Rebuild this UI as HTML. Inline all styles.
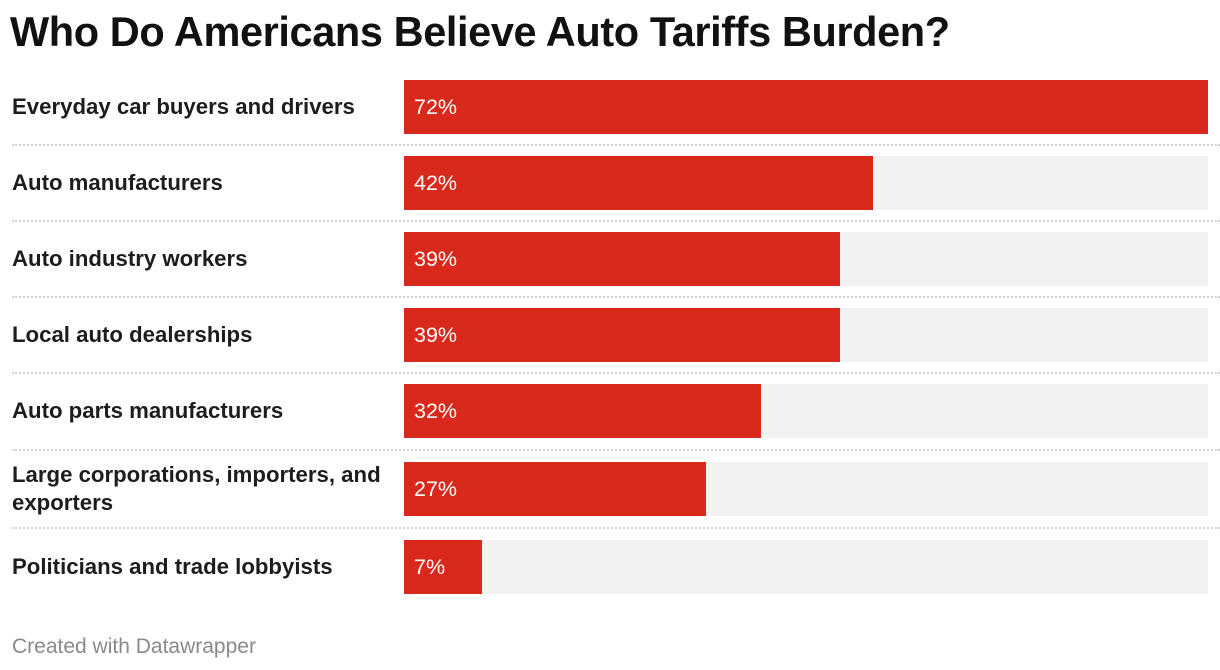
<!DOCTYPE html>
<html><head><meta charset="utf-8"><style>
body{margin:0;width:1220px;height:670px;background:#fff;font-family:"Liberation Sans",sans-serif;position:relative;overflow:hidden}
.abs{position:absolute}
#title{left:10px;top:8px;font-size:41.5px;font-weight:bold;color:#111;letter-spacing:-0.4px;white-space:nowrap}
.lbl{left:12px;width:385px;font-size:22.2px;font-weight:bold;color:#1d1d1d;line-height:28px;display:flex;align-items:center}
.bg{background:#f2f2f2}
.bar{background:#d9291c}
.val{color:#fff;font-size:21.5px;line-height:54px;padding-left:10px;white-space:nowrap}
.sep{left:12px;right:0;height:0;border-top:2px dotted #d3d3d3}
#footer{left:12px;top:635px;font-size:21px;color:#8a8a8a}
</style></head><body>
<div id="title" class="abs">Who Do Americans Believe Auto Tariffs Burden?</div>
<div id="chart"></div>
<div id="footer" class="abs">Created with Datawrapper</div>
<script>
const categories=["Everyday car buyers and drivers","Auto manufacturers","Auto industry workers","Local auto dealerships","Auto parts manufacturers","Large corporations, importers, and exporters","Politicians and trade lobbyists"];
const values=[72,42,39,39,32,27,7];
const valueLabels=["72%","42%","39%","39%","32%","27%","7%"];
const rowTops=[80,156,232,308,384,462,540];
const X0=404,W=804,MAX=72,H=54;
function x(v){return W*v/MAX;}
const c=document.getElementById('chart');
categories.forEach((cat,i)=>{
  const top=rowTops[i];
  const l=document.createElement('div');l.className='abs lbl';
  
  
  l.style.top=top+'px';l.style.height=H+'px';l.textContent=cat;c.appendChild(l);
  const bg=document.createElement('div');bg.className='abs bg';
  
  
  bg.style.cssText=`left:${X0}px;top:${top}px;width:${W}px;height:${H}px`;c.appendChild(bg);
  const b=document.createElement('div');b.className='abs bar';
  
  
  b.style.cssText=`left:${X0}px;top:${top}px;width:${x(values[i])}px;height:${H}px`;c.appendChild(b);
  const t=document.createElement('div');t.className='abs val';
  
  
  t.style.cssText=`left:${X0}px;top:${top}px`;t.textContent=valueLabels[i];c.appendChild(t);
  if(i<categories.length-1){
    const s=document.createElement('div');s.className='abs sep';
    
    
    s.style.top=((top+H+rowTops[i+1])/2-1)+'px';c.appendChild(s);
  }
});
</script>
</body></html>
